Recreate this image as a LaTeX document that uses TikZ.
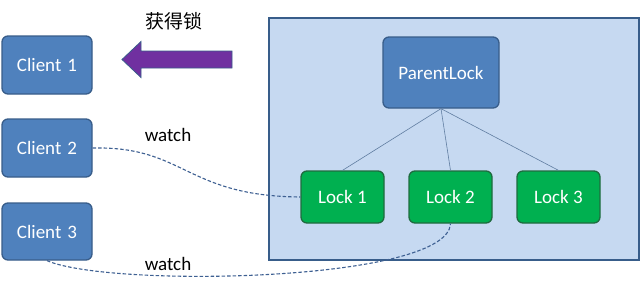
\documentclass[tikz,border=0pt]{standalone}
\usepackage{fontspec}
\setmainfont{Carlito}
\newfontfamily\cjk{Noto Sans CJK SC}
\definecolor{cblue}{HTML}{4F81BD}
\definecolor{cbord}{HTML}{385D8A}
\definecolor{lgreen}{HTML}{00B050}
\definecolor{gbord}{HTML}{1F6B3F}
\definecolor{bgbox}{HTML}{C6D9F1}
\definecolor{purp}{HTML}{7030A0}
\definecolor{dashc}{HTML}{3E6092}
\begin{document}
\begin{tikzpicture}[x=1pt,y=-1pt,
  bluebox/.style={draw=cbord,line width=1.3pt,fill=cblue,rounded corners=6pt,text=white,font=\fontsize{19}{22}\selectfont,inner sep=0pt},
  greenbox/.style={draw=gbord,line width=1.3pt,fill=lgreen,rounded corners=6pt,text=white,font=\fontsize{19}{22}\selectfont,inner sep=0pt,minimum width=83pt,minimum height=52pt},
  link/.style={draw=cbord!80,line width=0.6pt},
  lbltext/.style={font=\fontsize{19}{22}\selectfont},
  watchline/.style={draw=dashc,line width=1.1pt,dash pattern=on 3.5pt off 2pt}]
\useasboundingbox (0,0) rectangle (640,282);
\fill[white] (0,0) rectangle (640,282);
\node[draw=cbord,line width=1.3pt,fill=bgbox,minimum width=370pt,minimum height=242pt,inner sep=0pt] (frame) at (454,139) {};
\node[bluebox,minimum width=90pt,minimum height=58pt] (c1) at (47,65) {Client\hspace{6pt}1};
\node[bluebox,minimum width=90pt,minimum height=58pt] (c2) at (47,148) {Client\hspace{6pt}2};
\node[bluebox,minimum width=90pt,minimum height=57pt] (c3) at (47,231.5) {Client\hspace{6pt}3};
\node[bluebox,minimum width=116pt,minimum height=71pt] (pl) at (441,72.5) {ParentLock};
\node[greenbox] (l1) at (342.5,197) {Lock 1};
\node[greenbox] (l2) at (450.5,197) {Lock 2};
\node[greenbox] (l3) at (558.5,197) {Lock 3};
\draw[link] (pl.south) -- (l1.north);
\draw[link] (pl.south) -- (l2.north);
\draw[link] (pl.south) -- (l3.north);
\draw[draw=cbord,line width=0.8pt,fill=purp] (232,51) -- (141,51) -- (141,41.5) -- (122,59.5) -- (141,77.5) -- (141,68) -- (232,68) -- cycle;
\node[font=\cjk\fontsize{19}{22}\selectfont] (lbl) at (174,21) {获得锁};
\node[lbltext] (w1) at (168,135) {watch};
\node[lbltext] (w2) at (168,264) {watch};
\draw[watchline] (c2.east) .. controls (185,146) and (185,196) .. (l1.west);
\draw[watchline] (c3.south) .. controls (110,288) and (448,282) .. (l2.south);
\end{tikzpicture}
\end{document}
